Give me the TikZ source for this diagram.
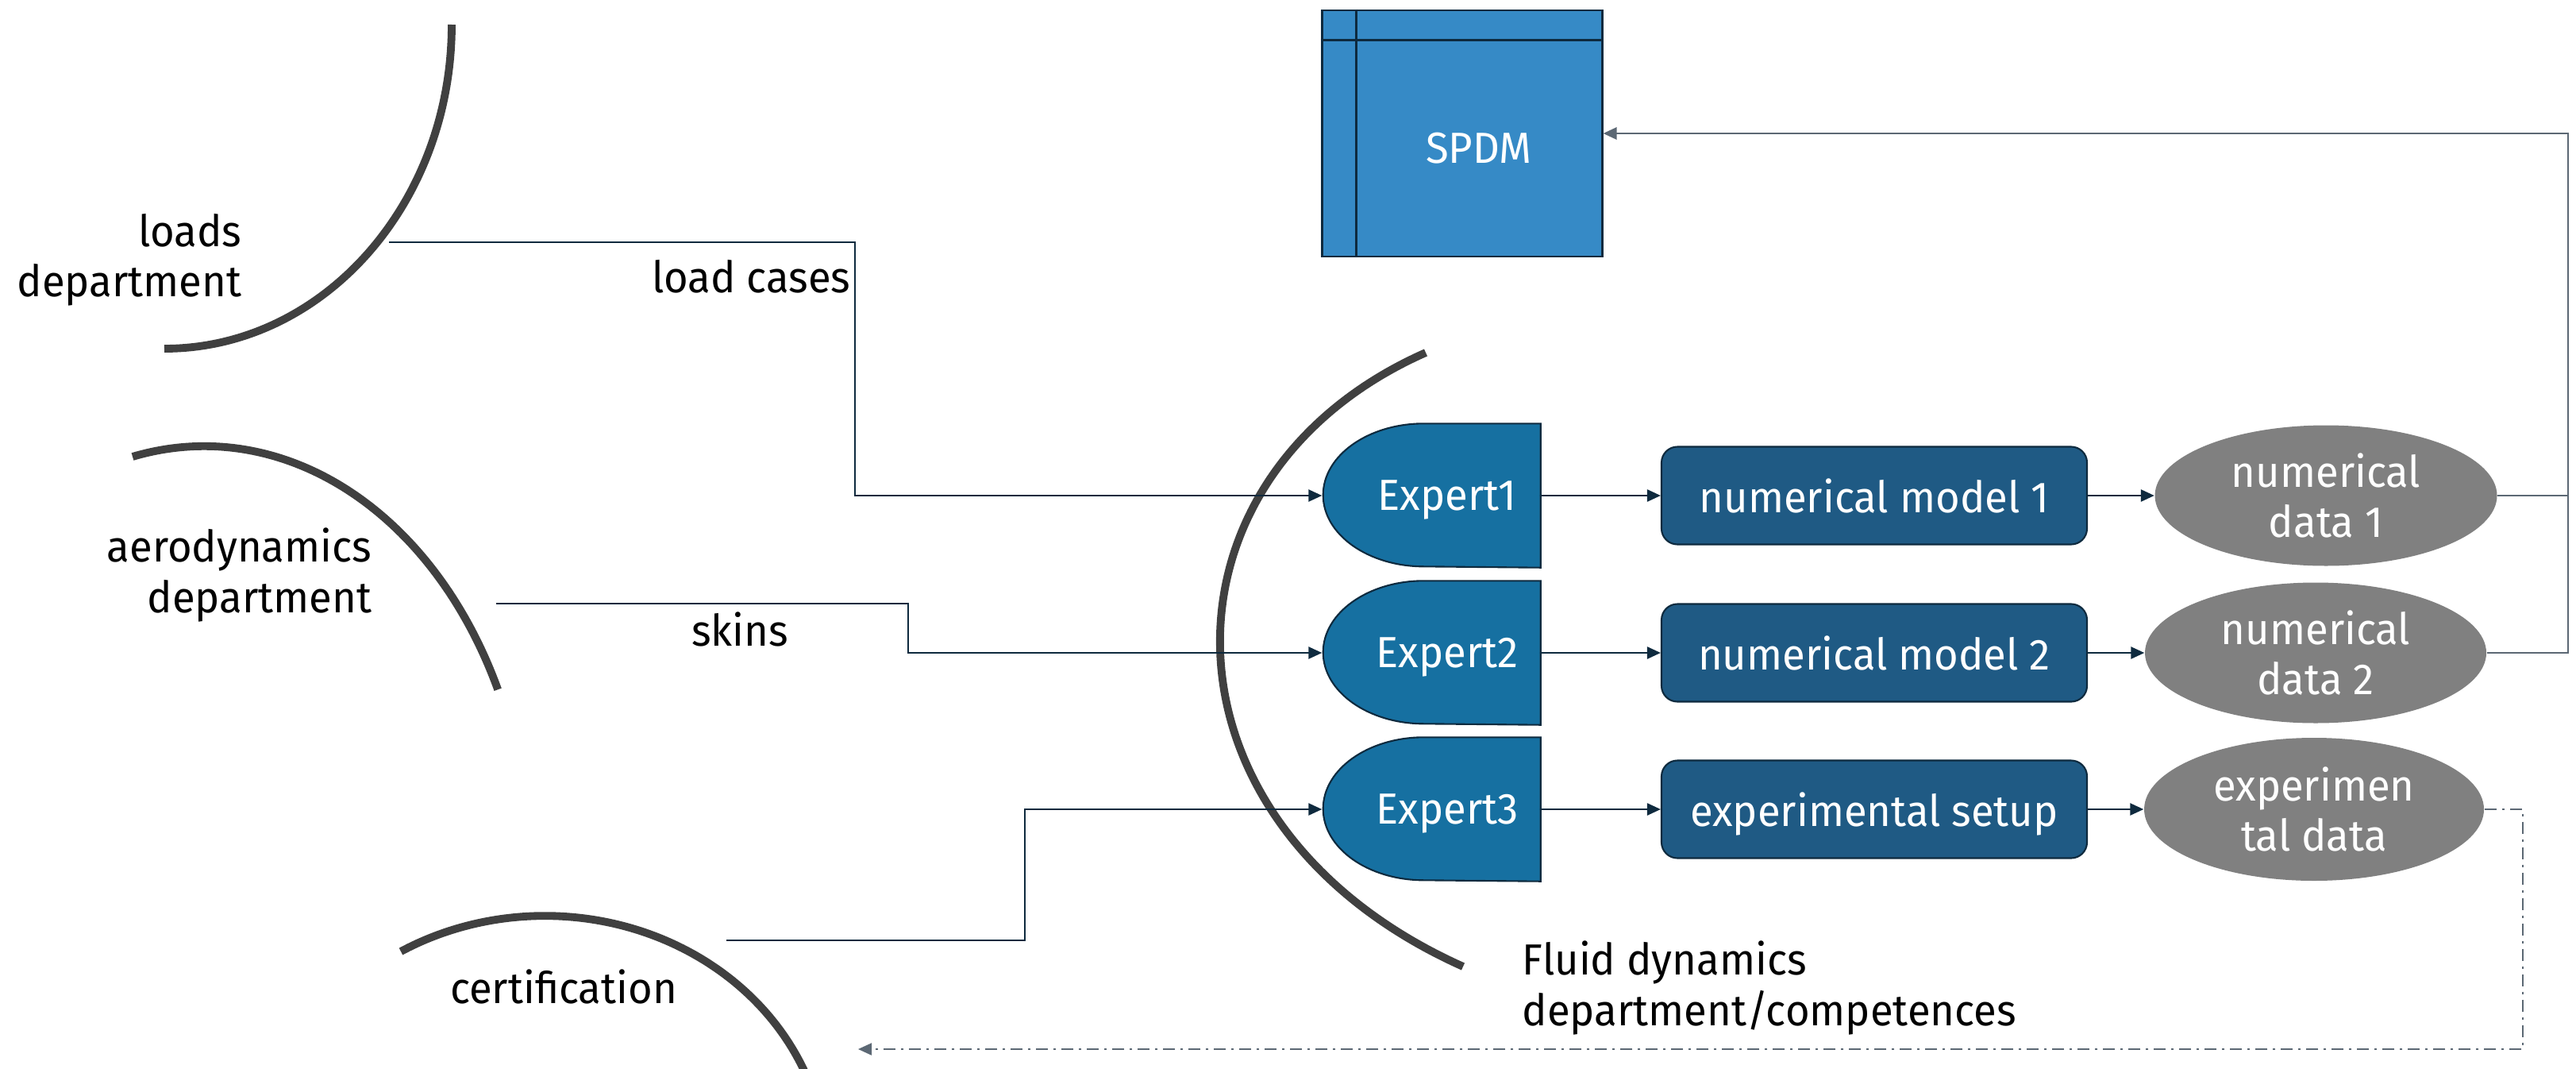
\documentclass[tikz,border=0pt]{standalone}
\usepackage{fontspec}
\setmainfont{Fira Sans}[FakeStretch=0.96]
\usetikzlibrary{arrows.meta,shapes.geometric,backgrounds,positioning}

\definecolor{arcgray}{HTML}{404040}
\definecolor{linenavy}{HTML}{0E2A3E}
\definecolor{expertblue}{HTML}{1670A1}
\definecolor{modelblue}{HTML}{1F5A84}
\definecolor{spdmblue}{HTML}{368AC6}
\definecolor{datagray}{HTML}{808080}
\definecolor{fbgray}{HTML}{5C6874}

\newcommand{\diagfont}{\fontsize{15.6pt}{18pt}\selectfont}

\begin{document}
\begin{tikzpicture}[
    font=\diagfont,
    tip/.style={-{Triangle[length=0.17cm,width=0.15cm]}},
    deptarc/.style={draw=arcgray, line width=2.8pt},
    flow/.style={draw=linenavy, line width=0.7pt, tip},
    feedback/.style={draw=fbgray, line width=0.8pt},
    dashflow/.style={draw=fbgray, line width=0.6pt, dash pattern=on 0.15cm off 0.07cm on 0.03cm off 0.07cm, tip},
    expert/.style={minimum width=2.74cm, minimum height=1.8cm, inner sep=0pt, text=white, text depth=0pt},
    expertshape/.style={draw=linenavy, fill=expertblue, line width=0.6pt},
    model/.style={draw=linenavy, fill=modelblue, line width=0.6pt, rounded corners=0.2cm, minimum width=5.36cm, minimum height=1.23cm, text=white, text depth=0pt},
    data/.style={ellipse, fill=datagray, minimum height=1.77cm, inner sep=0pt},
    datatext/.style={text=white, align=center, inner sep=0pt},
    spdmbox/.style={draw=linenavy, fill=spdmblue, line width=0.85pt, minimum width=3.53cm, minimum height=3.10cm, inner sep=0pt},
    note/.style={inner sep=0pt},
    deptlabel/.style={note, align=right},
]
    \useasboundingbox (0,0) rectangle (32.45,-13.45);

    % department arcs
    \draw[deptarc] (5.69,-0.31) arc[start angle=0, end angle=-90, x radius=3.62, y radius=4.08];
    \draw[deptarc] (1.67,-5.75) arc[start angle=102.7, end angle=25.5, x radius=4.10, y radius=5.38];
    \draw[deptarc] (5.05,-11.98) arc[start angle=120.7, end angle=18, x radius=3.55, y radius=3.20];
    \draw[deptarc] (17.96,-4.44) .. controls (14.43,-6.00) and (14.43,-10.38) .. (18.43,-12.17);

    % SPDM
    \node[spdmbox] (spdm) at (18.415,-1.68) {};
    \draw[linenavy, line width=0.85pt] ([xshift=0.45cm]spdm.north west) -- ([xshift=0.45cm]spdm.south west)
        ([yshift=-0.39cm]spdm.north west) -- ([yshift=-0.39cm]spdm.north east);
    \node[text=white] (spdmlabel) at (18.63,-1.87) {SPDM};

    % experts
    \node[expert] (e1) at (18.03,-6.24) {\hspace*{0.4cm}Expert1};
    \node[expert] (e2) at (18.03,-8.22) {\hspace*{0.4cm}Expert2};
    \node[expert] (e3) at (18.03,-10.19) {\hspace*{0.4cm}Expert3};
    \begin{scope}[on background layer]
        \foreach \e in {e1,e2,e3}
            \draw[expertshape] (\e.north east) -- ++(-1.47,0)
                arc[start angle=90, end angle=270, x radius=1.27, y radius=0.9] -- (\e.south east) -- cycle;
    \end{scope}

    % models and data
    \node[model] (m1) at (23.61,-6.24) {numerical model 1};
    \node[model] (m2) at (23.61,-8.22) {numerical model 2};
    \node[model] (m3) at (23.61,-10.19) {experimental setup};

    \node[data, minimum width=4.31cm, label={[datatext]center:{numerical\\data 1}}] (d1) at (29.30,-6.24) {};
    \node[data, minimum width=4.30cm, label={[datatext]center:{numerical\\data 2}}] (d2) at (29.17,-8.22) {};
    \node[data, minimum width=4.28cm, minimum height=1.80cm, label={[datatext]center:{experimen\\tal data}}] (d3) at (29.15,-10.19) {};

    \foreach \i in {1,2,3} {
        \draw[flow] (e\i.east) -- (m\i.west);
        \draw[flow] (m\i.east) -- (d\i.west);
    }

    % inputs from the departments
    \coordinate (loadsout) at (4.90,-3.05);
    \coordinate (skinsout) at (6.25,-7.60);
    \coordinate (certout) at (9.15,-11.84);
    \draw[flow] (loadsout) -- ++(5.87,0) |- (e1.west);
    \draw[flow] (skinsout) -- ++(5.19,0) |- (e2.west);
    \draw[flow] (certout) -- ++(3.76,0) |- (e3.west);

    % results back to SPDM / certification
    \coordinate (fbtop) at (32.35,-1.68);
    \draw[feedback] (d2.east) -| (fbtop);
    \draw[feedback, tip] (d1.east) -| (fbtop) -- (spdm.east);
    \coordinate (dashcorner) at (31.78,-13.21);
    \coordinate (certin) at (10.81,-13.21);
    \draw[dashflow] (d3.east) -| (dashcorner) -- (certin);

    % labels
    \node[note, anchor=base east] (loadcases) at (10.72,-3.68) {load cases};
    \node[note, anchor=base] (skins) at (9.32,-8.13) {skins};
    \node[deptlabel, anchor=east] (loads) at (3.05,-3.27) {loads\\department};
    \node[deptlabel, anchor=east] (aero) at (4.69,-7.24) {aerodynamics\\department};
    \node[note, anchor=base] (cert) at (7.10,-12.63) {certification};
    \node[note, align=left, anchor=west] (fluid) at (19.17,-12.44) {Fluid dynamics\\department/competences};
\end{tikzpicture}
\end{document}
